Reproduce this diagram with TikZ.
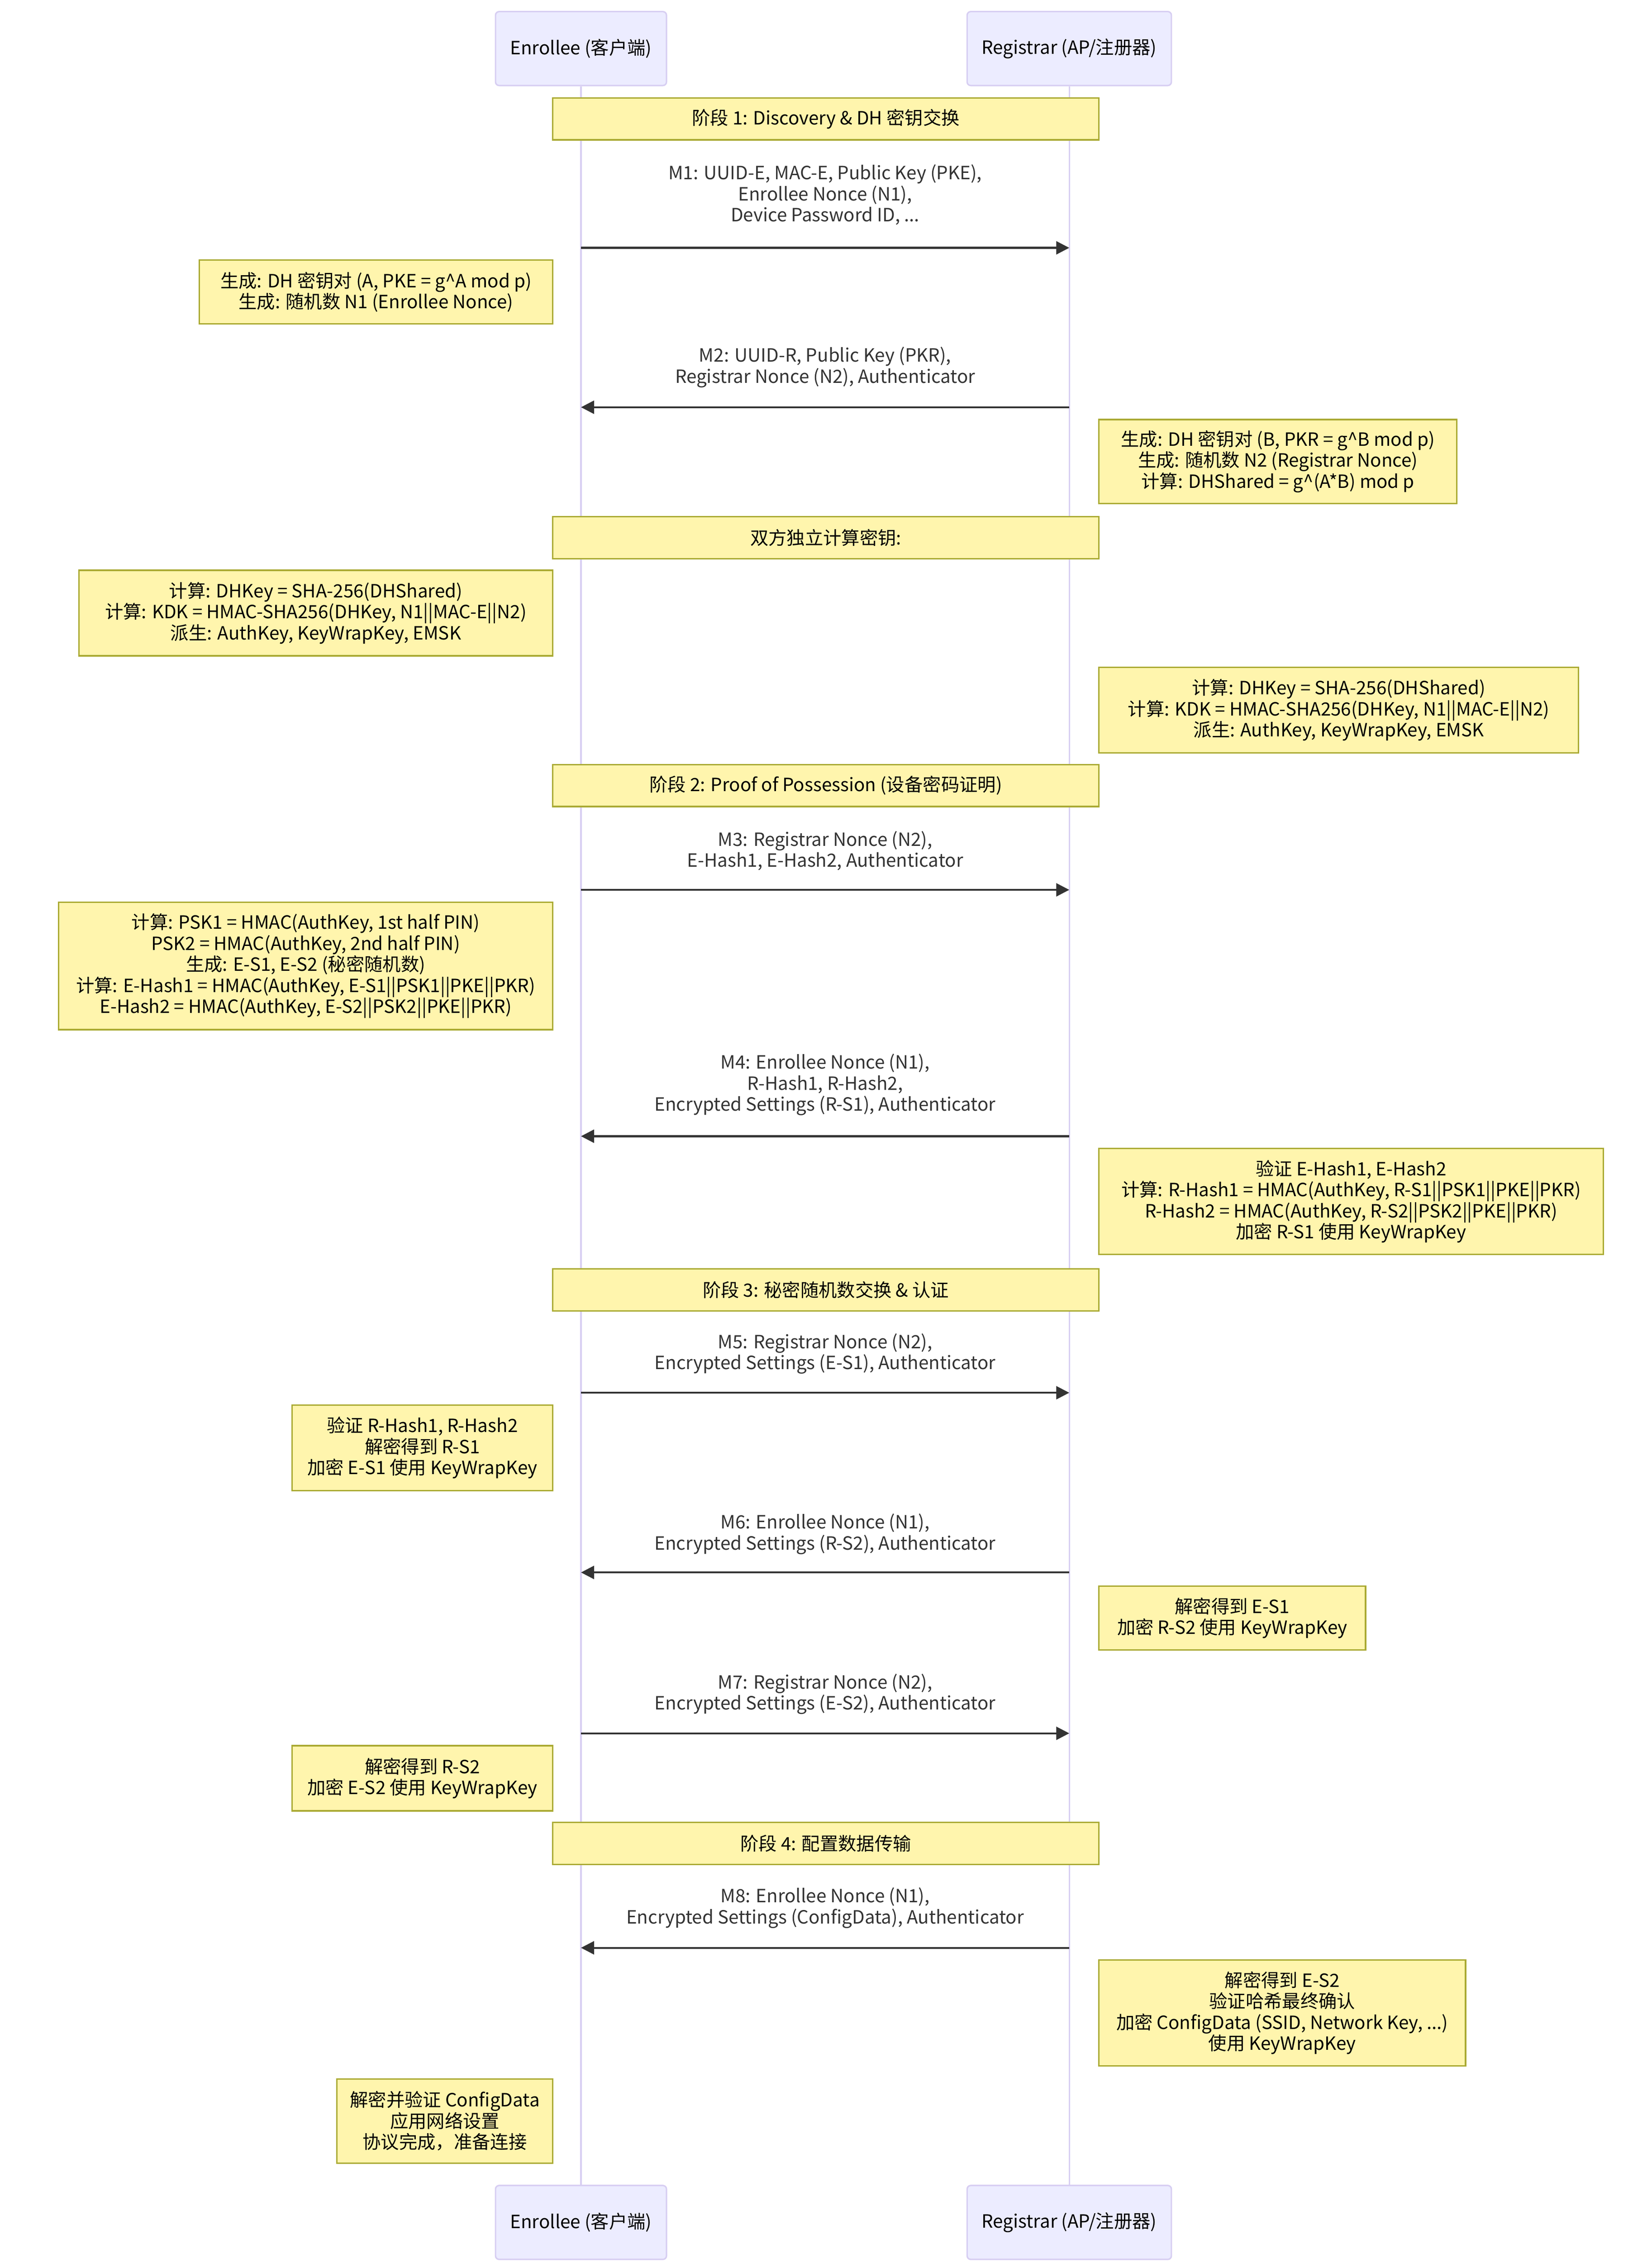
\documentclass[tikz,border=0pt]{standalone}
\usepackage{fontspec}
\setmainfont{Noto Sans CJK SC}
\usetikzlibrary{arrows.meta}
\definecolor{actorfill}{HTML}{ECECFF}
\definecolor{actorline}{HTML}{D7CEF2}
\definecolor{notefill}{HTML}{FFF5AD}
\definecolor{noteline}{HTML}{AAAA33}
\definecolor{msgline}{HTML}{333333}
\newcommand{\seqfont}{\fontsize{12.6}{14.5}\selectfont}
\newcommand{\pw}{\textasciicircum}
\tikzset{
  actor/.style={draw=actorline, fill=actorfill, line width=1pt, rounded corners=2.5pt,
    minimum height=51pt, inner sep=0pt, font=\seqfont},
  lifeline/.style={draw=actorline, line width=1pt},
  note/.style={draw=noteline, fill=notefill, line width=1pt, inner sep=0pt,
    align=center, anchor=north west, font=\seqfont},
  phase/.style={note, minimum width=377pt, minimum height=29pt},
  msg/.style={draw=msgline, line width=1.3pt, -{Triangle[length=9pt,width=9pt]}},
  msgtext/.style={text=msgline, align=center, font=\seqfont},
}

\begin{document}
\begin{tikzpicture}[x=1pt, y=-1pt]
		\useasboundingbox (0,0) rectangle (1140,1561.5);
		\node[actor, minimum width=118pt] (E) at (401,33.5) {Enrollee (客户端)};
		\node[actor, minimum width=141pt] (R) at (738,33.5) {Registrar (AP/注册器)};
		\node[actor, minimum width=118pt] (Eb) at (401,1533.5) {Enrollee (客户端)};
		\node[actor, minimum width=141pt] (Rb) at (738,1533.5) {Registrar (AP/注册器)};
		\draw[lifeline] (E.south) to (Eb.north);
		\draw[lifeline] (R.south) to (Rb.north);

		\node[phase] (P1) at (381,67) {阶段 1: Discovery \& DH 密钥交换};
		\node[phase] (P2) at (381,356) {双方独立计算密钥:};
		\node[phase] (P3) at (381,527) {阶段 2: Proof of Possession (设备密码证明)};
		\node[phase] (P4) at (381,875) {阶段 3: 秘密随机数交换 \& 认证};
		\node[phase] (P5) at (381,1257) {阶段 4: 配置数据传输};

		\node[note, minimum width=244pt, minimum height=44pt] (N1) at (137,179)
			{生成: DH 密钥对 (A, PKE = g\pw A mod p)\\生成: 随机数 N1 (Enrollee Nonce)};
		\node[note, minimum width=247pt, minimum height=58pt] (N2) at (758,289)
			{生成: DH 密钥对 (B, PKR = g\pw B mod p)\\生成: 随机数 N2 (Registrar Nonce)\\计算: DHShared = g\pw (A*B) mod p};
		\node[note, minimum width=327pt, minimum height=59pt] (N3) at (54,393)
			{计算: DHKey = SHA-256(DHShared)\\计算: KDK = HMAC-SHA256(DHKey, N1||MAC-E||N2)\\派生: AuthKey, KeyWrapKey, EMSK};
		\node[note, minimum width=331pt, minimum height=59pt] (N4) at (758,460)
			{计算: DHKey = SHA-256(DHShared)\\计算: KDK = HMAC-SHA256(DHKey, N1||MAC-E||N2)\\派生: AuthKey, KeyWrapKey, EMSK};
		\node[note, minimum width=341pt, minimum height=88pt] (N5) at (40,622)
			{计算: PSK1 = HMAC(AuthKey, 1st half PIN)\\PSK2 = HMAC(AuthKey, 2nd half PIN)\\生成: E-S1, E-S2 (秘密随机数)\\计算: E-Hash1 = HMAC(AuthKey, E-S1||PSK1||PKE||PKR)\\E-Hash2 = HMAC(AuthKey, E-S2||PSK2||PKE||PKR)};
		\node[note, minimum width=348pt, minimum height=73pt] (N6) at (758,792)
			{验证 E-Hash1, E-Hash2\\计算: R-Hash1 = HMAC(AuthKey, R-S1||PSK1||PKE||PKR)\\R-Hash2 = HMAC(AuthKey, R-S2||PSK2||PKE||PKR)\\加密 R-S1 使用 KeyWrapKey};
		\node[note, minimum width=180pt, minimum height=59pt] (N7) at (201,969)
			{验证 R-Hash1, R-Hash2\\解密得到 R-S1\\加密 E-S1 使用 KeyWrapKey};
		\node[note, minimum width=184pt, minimum height=44pt] (N8) at (758,1094)
			{解密得到 E-S1\\加密 R-S2 使用 KeyWrapKey};
		\node[note, minimum width=180pt, minimum height=45pt] (N9) at (201,1204)
			{解密得到 R-S2\\加密 E-S2 使用 KeyWrapKey};
		\node[note, minimum width=253pt, minimum height=73pt] (N10) at (758,1352)
			{解密得到 E-S2\\验证哈希最终确认\\加密 ConfigData (SSID, Network Key, ...)\\使用 KeyWrapKey};
		\node[note, minimum width=149pt, minimum height=58pt] (N11) at (232,1434)
			{解密并验证 ConfigData\\应用网络设置\\协议完成，准备连接};

		\coordinate (e1) at (401,171);  \coordinate (r1) at (738,171);
		\coordinate (e2) at (401,281);  \coordinate (r2) at (738,281);
		\coordinate (e3) at (401,614);  \coordinate (r3) at (738,614);
		\coordinate (e4) at (401,784);  \coordinate (r4) at (738,784);
		\coordinate (e5) at (401,961);  \coordinate (r5) at (738,961);
		\coordinate (e6) at (401,1085); \coordinate (r6) at (738,1085);
		\coordinate (e7) at (401,1196); \coordinate (r7) at (738,1196);
		\coordinate (e8) at (401,1344); \coordinate (r8) at (738,1344);

		\draw[msg] (e1) to (r1);
		\node[msgtext] (M1) at (569.5,134.5) {M1: UUID-E, MAC-E, Public Key (PKE),\\Enrollee Nonce (N1),\\Device Password ID, ...};
		\draw[msg] (r2) to (e2);
		\node[msgtext] (M2) at (569.5,253.5) {M2: UUID-R, Public Key (PKR),\\Registrar Nonce (N2), Authenticator};
		\draw[msg] (e3) to (r3);
		\node[msgtext] (M3) at (569.5,587) {M3: Registrar Nonce (N2),\\E-Hash1, E-Hash2, Authenticator};
		\draw[msg] (r4) to (e4);
		\node[msgtext] (M4) at (569.5,748.5) {M4: Enrollee Nonce (N1),\\R-Hash1, R-Hash2,\\Encrypted Settings (R-S1), Authenticator};
		\draw[msg] (e5) to (r5);
		\node[msgtext] (M5) at (569.5,934) {M5: Registrar Nonce (N2),\\Encrypted Settings (E-S1), Authenticator};
		\draw[msg] (r6) to (e6);
		\node[msgtext] (M6) at (569.5,1058.5) {M6: Enrollee Nonce (N1),\\Encrypted Settings (R-S2), Authenticator};
		\draw[msg] (e7) to (r7);
		\node[msgtext] (M7) at (569.5,1169) {M7: Registrar Nonce (N2),\\Encrypted Settings (E-S2), Authenticator};
		\draw[msg] (r8) to (e8);
		\node[msgtext] (M8) at (569.5,1316.5) {M8: Enrollee Nonce (N1),\\Encrypted Settings (ConfigData), Authenticator};
	\end{tikzpicture}
\end{document}
